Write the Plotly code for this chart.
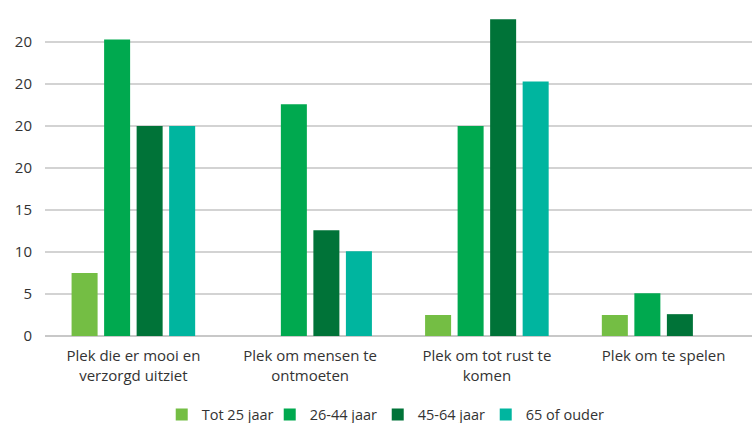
import plotly.graph_objects as go

categories = ["Plek die er mooi en<br>verzorgd uitziet", "Plek om mensen te<br>ontmoeten",
              "Plek om tot rust te<br>komen", "Plek om te spelen"]
series_names = ["Tot 25 jaar", "26-44 jaar", "45-64 jaar", "65 of ouder"]
tot25 = [7.5, 0, 2.5, 2.5]
age26_44 = [35.3, 27.6, 25, 5.1]
age45_64 = [25, 12.6, 37.7, 2.6]
age65 = [25, 10.1, 30.3, 0]
colors = ["#74BE44", "#00A94F", "#007338", "#00B59F"]
tick_vals = [0, 5, 10, 15, 20, 25, 30, 35]
tick_text = ["0", "5", "10", "15", "20", "20", "20", "20"]

fig = go.Figure()
for name, vals, c in zip(series_names, [tot25, age26_44, age45_64, age65], colors):
    fig.add_trace(go.Bar(x=categories, y=vals, name=name, marker_color=c, marker_line_width=0))
# invisible spacer entry so the last legend label is not clipped
fig.add_trace(go.Scatter(x=[None], y=[None], mode="markers", name=" ",
                         marker=dict(color="rgba(0,0,0,0)"), hoverinfo="skip"))

fig.update_layout(
    width=752, height=423,
    margin=dict(l=45, r=0, t=0, b=87),
    paper_bgcolor="white", plot_bgcolor="white",
    font=dict(family="Open Sans, Noto Sans, sans-serif", size=15, color="#333333"),
    barmode="group", bargap=0.264, bargroupgap=0.2,
    showlegend=True,
    legend=dict(orientation="h", x=0.547, xanchor="center",
                yref="container", y=0.02, yanchor="middle",
                font=dict(size=14.5), itemwidth=30, traceorder="normal",
                entrywidth=63, entrywidthmode="pixels",
                bgcolor="rgba(0,0,0,0)"),
)
fig.update_yaxes(range=[0, 40], tickvals=tick_vals, ticktext=tick_text,
                 showgrid=True, gridcolor="#d3d3d3", gridwidth=1.5,
                 zeroline=True, zerolinecolor="#c8c8c8", zerolinewidth=2,
                 ticks="", ticklabelstandoff=12, tickfont=dict(size=15), fixedrange=True)
fig.update_xaxes(showgrid=False, ticks="", tickfont=dict(size=15), showline=False,
                 ticklabelstandoff=9, fixedrange=True)

fig.write_html("out.html", config={"displayModeBar": False},
               post_script="document.body.style.margin='0';")
